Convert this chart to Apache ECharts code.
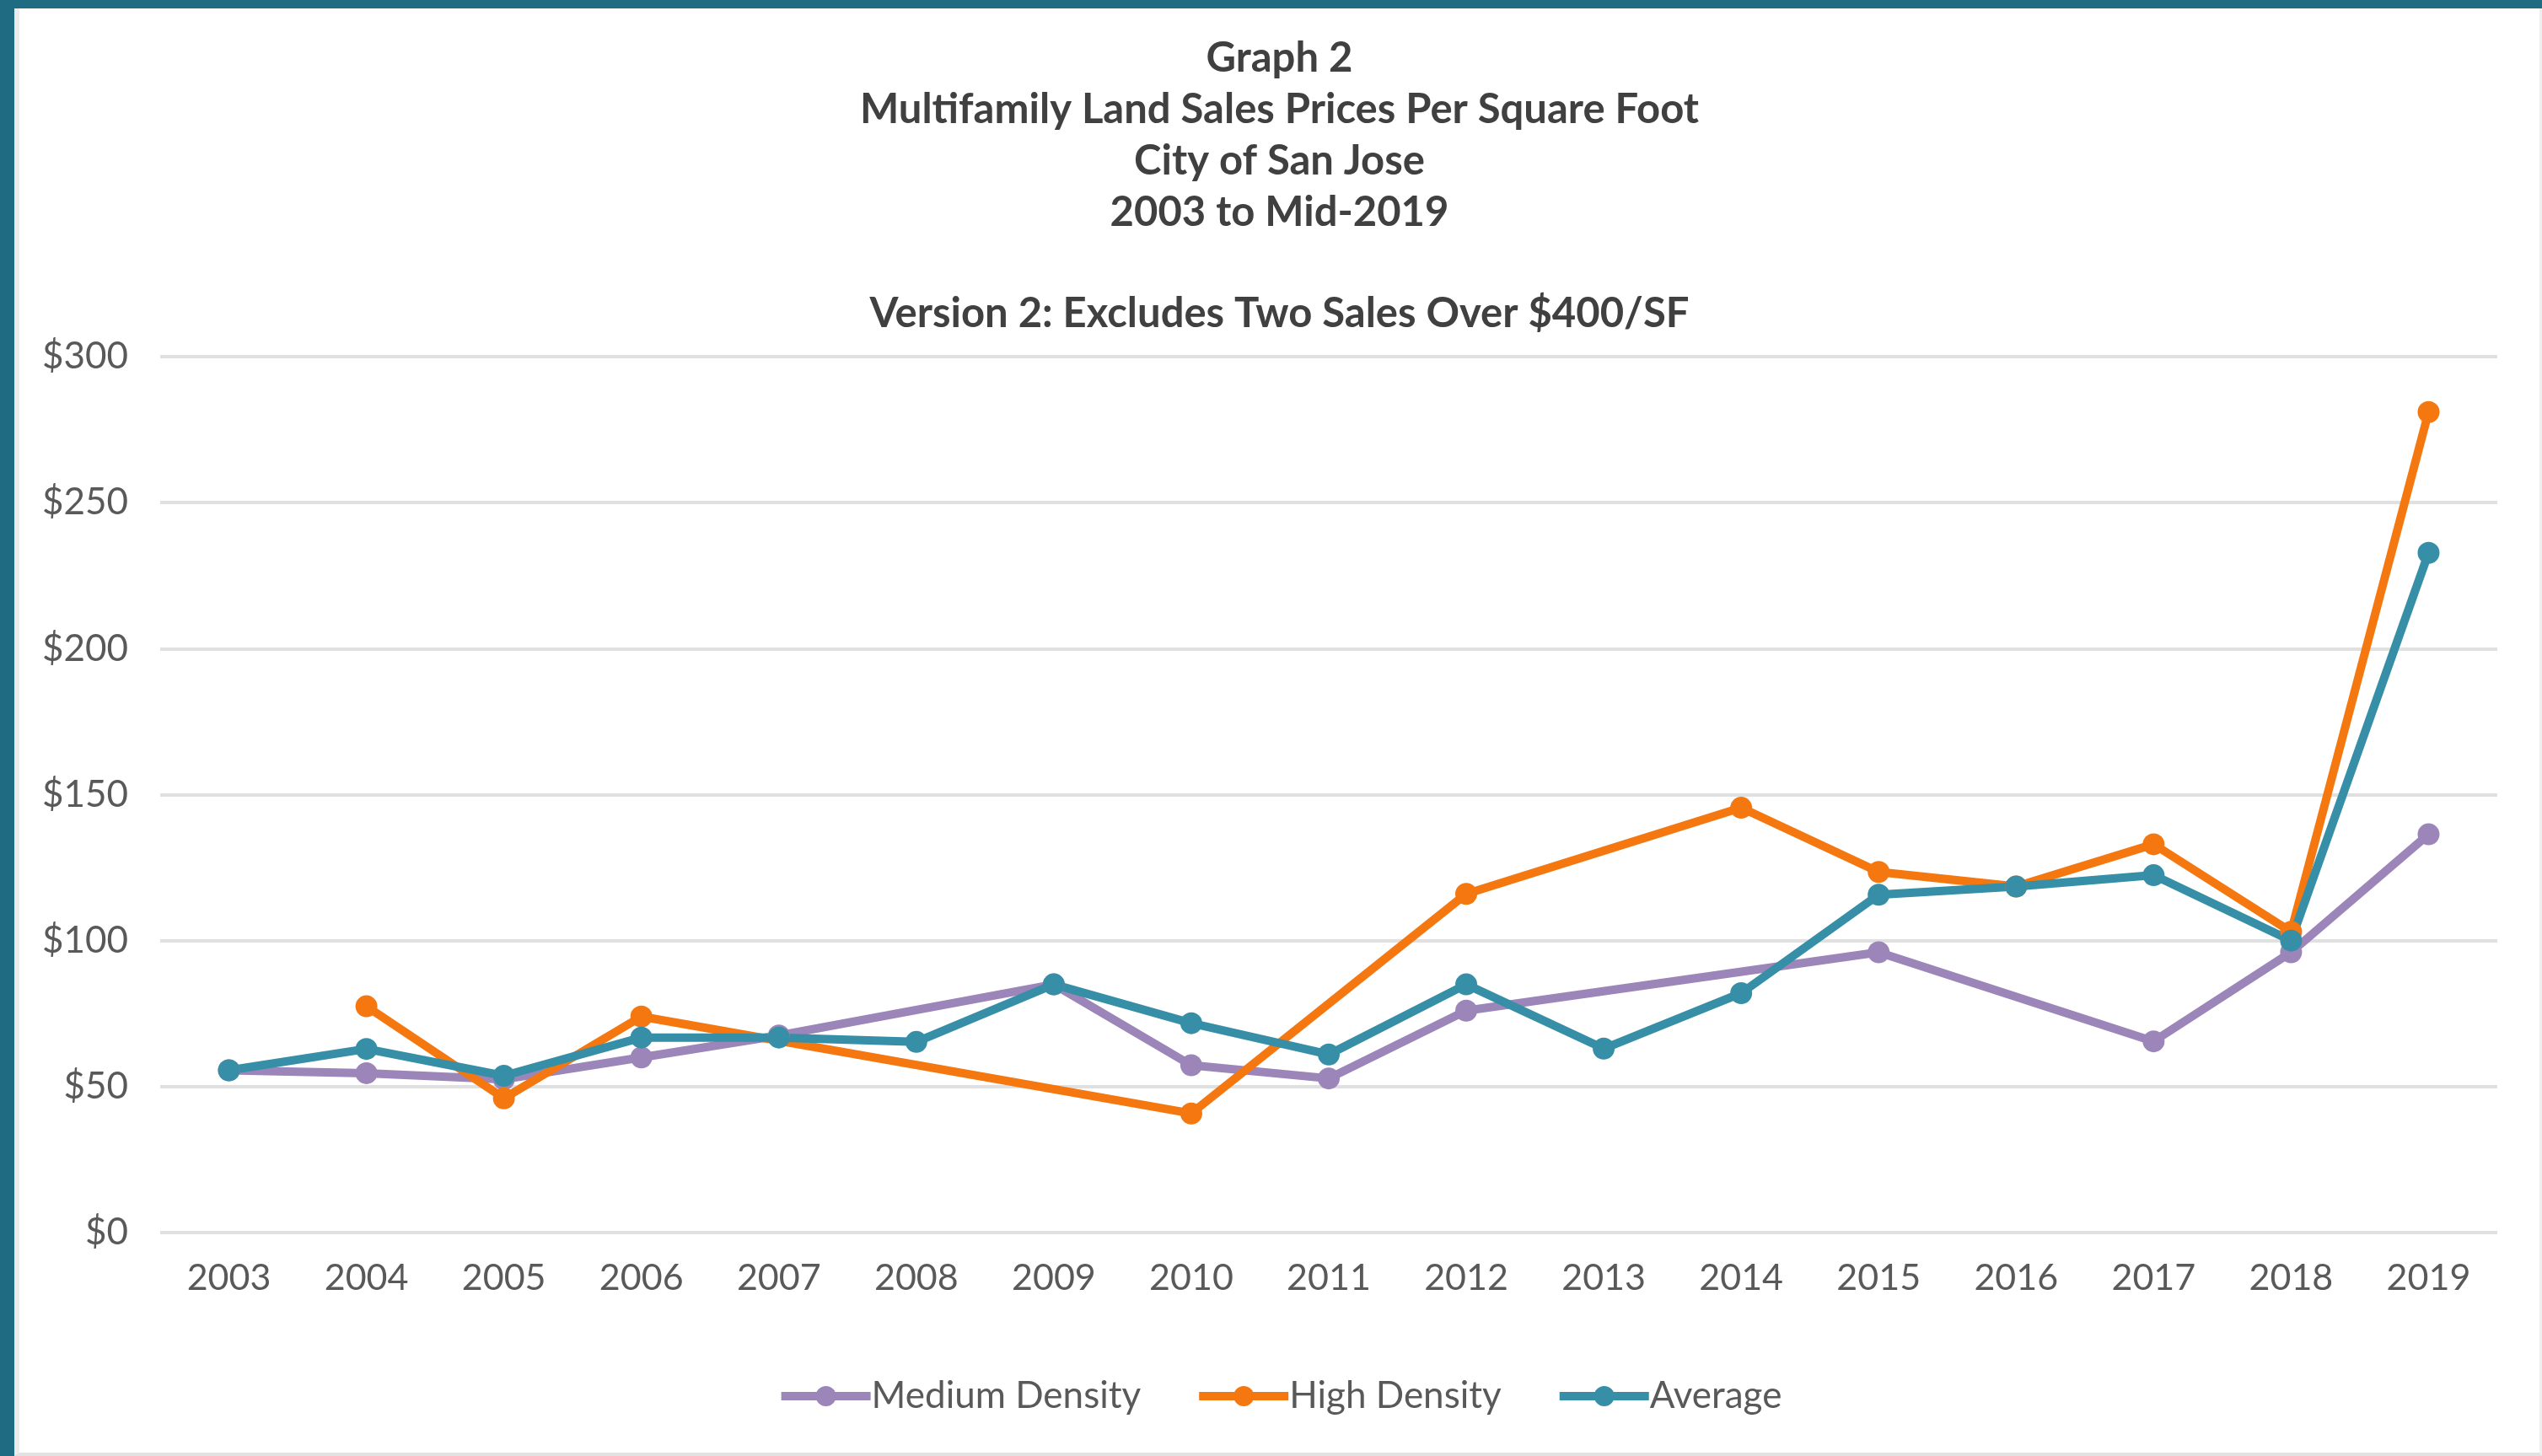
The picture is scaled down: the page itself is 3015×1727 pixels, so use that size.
<!DOCTYPE html>
<html>
<head>
<meta charset="utf-8">
<script src="https://cdn.jsdelivr.net/npm/echarts@6/dist/echarts.min.js"></script>
<style>
  html, body { margin: 0; padding: 0; background: #1f6b82; width: 3015px; height: 1727px; overflow: hidden; }
  #chart {
    position: absolute; left: 17px; top: 10px; width: 2989px; height: 1713px; background: #ffffff;
    border-left: 6px solid #ececec; border-right: 3px solid #efefef; border-bottom: 4px solid #e2e2e2;
  }
</style>
</head>
<body>
<div id="chart"></div>
<script>
var years = ['2003', '2004', '2005', '2006', '2007', '2008', '2009', '2010', '2011',
             '2012', '2013', '2014', '2015', '2016', '2017', '2018', '2019'];
var mediumDensity = [55.6, 54.6, 52.5, 60, 67.5, null, 85, 57.3, 52.8, 76, null, null, 96, null, 65.5, 96, 136.4];
var highDensity = [null, 77.5, 46, 74, null, null, null, 40.8, null, 116, null, 145.5, 123.5, 118.5, 133, 103, 281];
var average = [55.6, 62.9, 53.7, 66.8, 66.8, 65.3, 85, 71.7, 61, 85, 63, 82, 115.7, 118.5, 122.4, 100, 232.8];
var yTicks = [0, 50, 100, 150, 200, 250, 300];

var FONT = 'Lato, "Open Sans", sans-serif';

var myChart = echarts.init(document.getElementById('chart'));

function lineSeries(name, data, color) {
    return {
        name: name,
        type: 'line',
        data: data,
        connectNulls: true,
        symbol: 'circle',
        symbolSize: 26,
        showAllSymbol: true,
        lineStyle: { width: 10, color: color },
        itemStyle: { color: color },
        emphasis: { disabled: true }
    };
}

var option = {
    animation: false,
    textStyle: { fontFamily: FONT },
    title: [
        {
            text: 'Graph 2\nMultifamily Land Sales Prices Per Square Foot\nCity of San Jose\n2003 to Mid-2019',
            left: 'center',
            top: 24,
            textStyle: { fontSize: 49, fontWeight: 'bold', color: '#404040', lineHeight: 61, fontFamily: FONT }
        },
        {
            text: 'Version 2: Excludes Two Sales Over $400/SF',
            left: 'center',
            top: 327,
            textStyle: { fontSize: 49, fontWeight: 'bold', color: '#404040', lineHeight: 61, fontFamily: FONT }
        }
    ],
    legend: {
        bottom: 40,
        left: 'center',
        itemWidth: 106,
        itemHeight: 30,
        itemGap: 64,
        lineStyle: { width: 10 },
        textStyle: { fontSize: 44, color: '#595959', fontFamily: FONT, padding: [0, 0, 0, -4] },
        data: ['Medium Density', 'High Density', 'Average']
    },
    grid: { left: 167, right: 50, top: 413, bottom: 261 },
    xAxis: {
        type: 'category',
        data: years,
        boundaryGap: true,
        axisLine: { show: false },
        axisTick: { show: false },
        axisLabel: { fontSize: 43, color: '#595959', margin: 33, fontFamily: FONT }
    },
    yAxis: {
        type: 'value',
        min: yTicks[0],
        max: yTicks[yTicks.length - 1],
        interval: 50,
        axisLine: { show: false },
        axisTick: { show: false },
        axisLabel: { fontSize: 44, color: '#595959', margin: 38, fontFamily: FONT, formatter: '${value}' },
        splitLine: { lineStyle: { color: '#e0e0e0', width: 4 } }
    },
    series: [
        lineSeries('Medium Density', mediumDensity, '#9c85b8'),
        lineSeries('High Density', highDensity, '#f47710'),
        lineSeries('Average', average, '#368fa7')
    ]
};

myChart.setOption(option);
</script>
</body>
</html>
